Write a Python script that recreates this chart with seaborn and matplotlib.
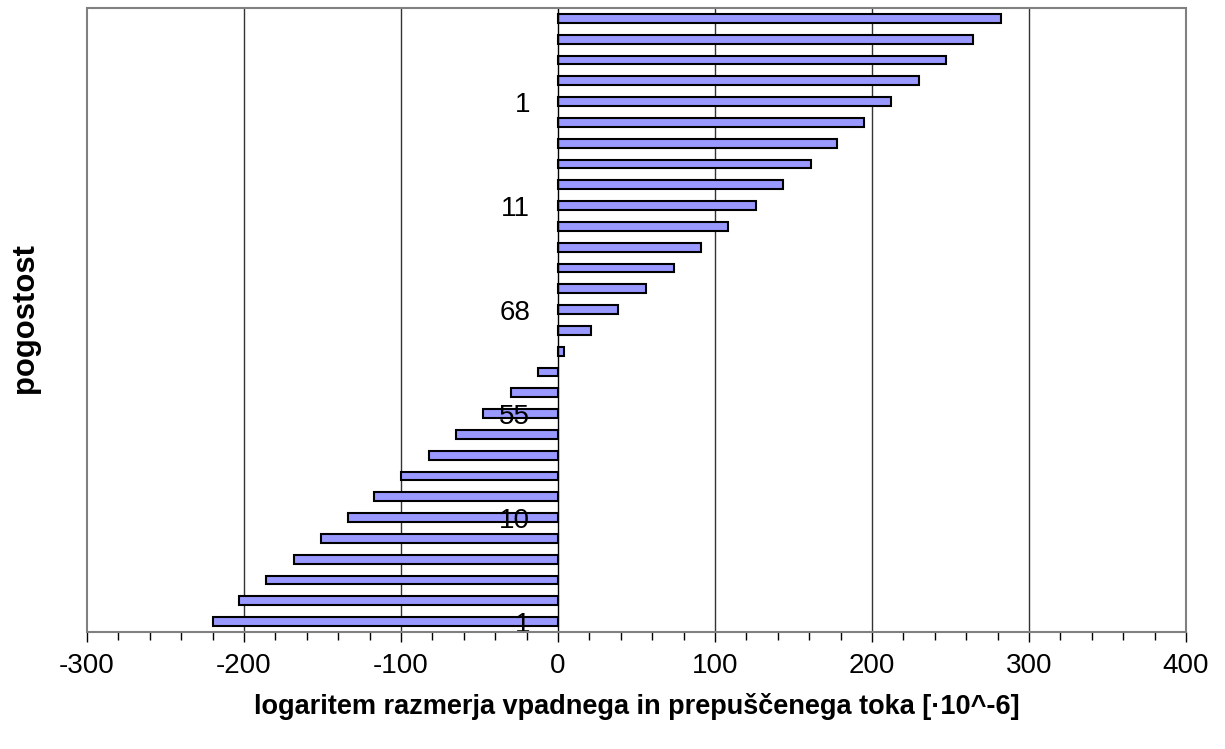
import matplotlib.pyplot as plt
import matplotlib.patches as patches
from matplotlib.ticker import MultipleLocator, FixedLocator
import seaborn as sns
import pandas as pd

# vrednosti stolpcev, od zgoraj navzdol
bins = ['b%02d' % i for i in range(1, 31)]
values = [282, 264, 247, 230, 212, 195, 178, 161, 143, 126,
          108, 91, 74, 56, 38, 21, 4, -13, -30, -48,
          -65, -82, -100, -117, -134, -151, -168, -186, -203, -220]

# oznake pogostosti (prikazana je vsaka peta)
label_pos = [4, 9, 14, 19, 24, 29]
label_txt = ['1', '11', '68', '55', '10', '1']

df = pd.DataFrame({'bin': bins, 'val': values})

sns.set_style('white')
plt.rcParams['font.family'] = ['Liberation Sans', 'DejaVu Sans']
plt.rcParams['axes.unicode_minus'] = False
plt.rcParams['text.color'] = 'black'
plt.rcParams['axes.labelcolor'] = 'black'
plt.rcParams['xtick.color'] = 'black'
plt.rcParams['ytick.color'] = 'black'

fig = plt.figure(figsize=(12.25, 7.49), dpi=100)
ax = fig.add_axes([0.0710, 0.1562, 0.8972, 0.8331])

sns.barplot(data=df, x='val', y='bin', orient='h', color='#9999FF',
            saturation=1, width=0.42, edgecolor='black', linewidth=1.5, ax=ax)

ax.set_xlim(-300, 400)
ax.set_ylim(29.5, -0.5)
ax.xaxis.set_major_locator(MultipleLocator(100))
ax.xaxis.set_minor_locator(MultipleLocator(20))
ax.grid(False)
ax.set_axisbelow(False)
for gx in [-200, -100, 100, 200, 300]:
    ax.axvline(gx, color='#333333', linewidth=1, zorder=0)

# os y pri x = 0
for s in ['top', 'right', 'bottom']:
    ax.spines[s].set_visible(False)
ax.spines['left'].set_position(('data', 0))
ax.spines['left'].set_color('black')
ax.spines['left'].set_linewidth(1)
ax.add_patch(patches.Rectangle((0, 0), 1, 1, transform=ax.transAxes, fill=False,
                               edgecolor='#808080', linewidth=1.5, zorder=5, clip_on=False))

ax.yaxis.set_major_locator(FixedLocator(label_pos))
ax.set_yticklabels(label_txt)
ax.yaxis.set_minor_locator(FixedLocator([i - 0.5 for i in range(31)]))
ax.tick_params(axis='y', which='major', length=0, pad=20, labelsize=20)
ax.tick_params(axis='y', which='minor', length=6, width=1, color='black', direction='out')
ax.tick_params(axis='x', which='major', length=7, width=1, color='black', direction='out',
               labelsize=20, pad=8)
ax.tick_params(axis='x', which='minor', length=6, width=1, color='black', direction='out')
ax.xaxis.set_ticks_position('bottom')

ax.set_xlabel('logaritem razmerja vpadnega in prepuščenega toka [·10^-6]',
              fontsize=19.5, fontweight='bold', labelpad=10)
ax.set_ylabel('')
fig.text(0.0205, 0.575, 'pogostost', rotation=90, fontsize=22.3, fontweight='bold',
         ha='center', va='center')

fig.savefig('out.png', dpi=100)
